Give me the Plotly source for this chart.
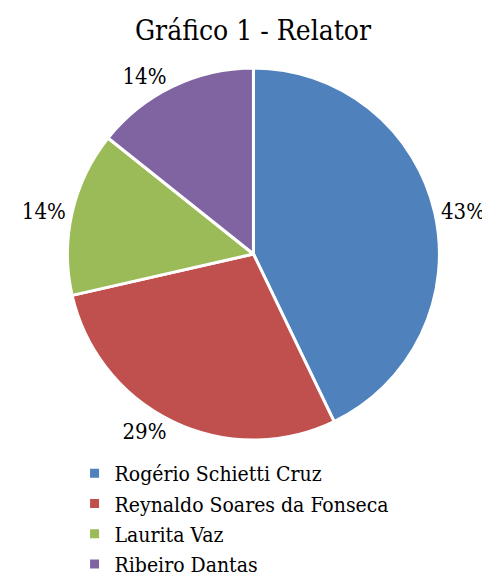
import plotly.graph_objects as go

labels = ["Rogério Schietti Cruz", "Reynaldo Soares da Fonseca", "Laurita Vaz", "Ribeiro Dantas"]
values = [3, 2, 1, 1]
colors = ["#4F81BD", "#C0504D", "#9BBB59", "#8064A2"]

SERIF = "DejaVu Serif Condensed"

fig = go.Figure(go.Pie(
    labels=labels,
    values=values,
    sort=False,
    direction="clockwise",
    rotation=0,
    marker=dict(colors=colors, line=dict(color="white", width=3)),
    textposition="outside",
    texttemplate="%{percent:.0%}",
    textfont=dict(family=SERIF, size=22, color="black"),
    domain=dict(x=[0, 0.93], y=[0, 1]),
    hoverinfo="label+percent",
))

fig.update_layout(
    width=490, height=585,
    margin=dict(l=0, r=0, t=60, b=153),
    paper_bgcolor="white",
    plot_bgcolor="white",
    font=dict(family=SERIF),
    title=dict(text="Gráfico 1 - Relator", x=0.5, xanchor="center", y=0.962, yanchor="middle",
               font=dict(family=SERIF, size=28, color="black")),
    legend=dict(orientation="v", x=0.035, xanchor="left", y=-0.035, yanchor="top",
                yref="paper",
                font=dict(family=SERIF, size=21, color="black"),
                tracegroupgap=0, itemwidth=30),
    showlegend=True,
)

fig.write_html("out.html")
